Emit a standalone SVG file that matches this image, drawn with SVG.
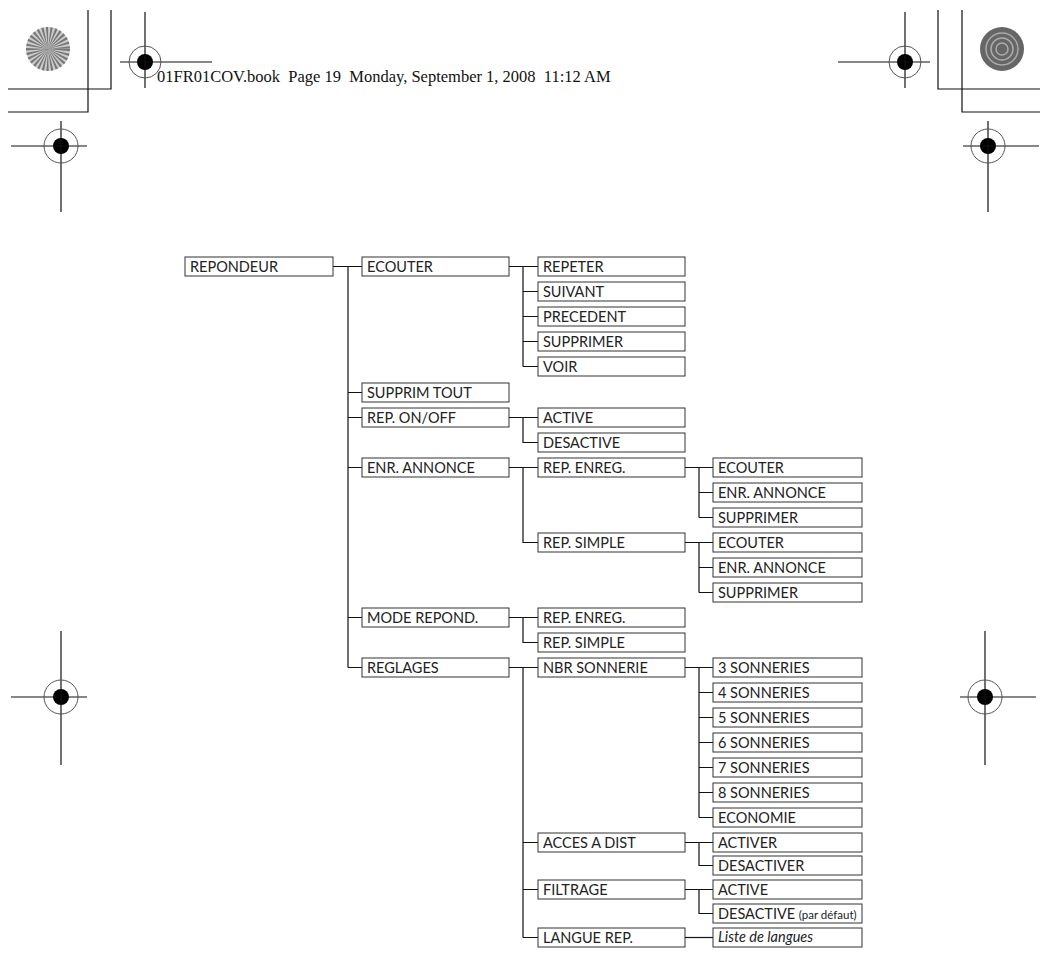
<svg xmlns="http://www.w3.org/2000/svg" width="1046" height="962" viewBox="0 0 1046 962">
<style>
.b rect{fill:#fff;stroke:#333;stroke-width:1}
.b text{font-family:Lato,"Open Sans",sans-serif;font-size:14.5px;fill:#222}
#conn path,.m line,.m path{stroke:#111;stroke-width:1.2;fill:none}
.m circle.o{fill:none;stroke:#555;stroke-width:1}
</style>
<rect width="1046" height="962" fill="#fff"/>
<g class="m">
<path d="M111 10V89H8M88 10V112H8M938 10V89H1040M962 10V112H1040"/>
<circle cx="48" cy="49" r="22" fill="#ccc"/>
<circle cx="48" cy="49" r="11" fill="none" stroke="#777" stroke-width="22" stroke-dasharray="1.2 1.2"/>
<circle cx="1002" cy="49" r="22" fill="#666"/>
<circle cx="1002" cy="49" r="16" fill="none" stroke="#aaa" stroke-width="1.5"/>
<circle cx="1002" cy="49" r="11" fill="none" stroke="#aaa" stroke-width="1.5"/>
<circle cx="1002" cy="49" r="6" fill="none" stroke="#aaa" stroke-width="1.5"/>
<g id="ch1"><line x1="120" y1="62" x2="212" y2="62"/><line x1="145" y1="12" x2="145" y2="88"/><circle class="o" cx="145" cy="62" r="16"/><circle cx="145" cy="62" r="8" fill="#000"/><path d="M137 62h16M145 54v16" stroke="#fff"/></g>
<g><line x1="838" y1="62" x2="930" y2="62"/><line x1="905" y1="12" x2="905" y2="88"/><circle class="o" cx="905" cy="62" r="16"/><circle cx="905" cy="62" r="8" fill="#000"/><path d="M897 62h16M905 54v16" stroke="#fff"/></g>
<g><line x1="11" y1="146" x2="87" y2="146"/><line x1="61" y1="121" x2="61" y2="212"/><circle class="o" cx="61" cy="146" r="17"/><circle cx="61" cy="146" r="8" fill="#000"/><path d="M53 146h16M61 138v16" stroke="#fff"/></g>
<g><line x1="963" y1="146" x2="1039" y2="146"/><line x1="988" y1="121" x2="988" y2="212"/><circle class="o" cx="988" cy="146" r="17"/><circle cx="988" cy="146" r="8" fill="#000"/><path d="M980 146h16M988 138v16" stroke="#fff"/></g>
<g><line x1="11" y1="697" x2="87" y2="697"/><line x1="61" y1="631" x2="61" y2="765"/><circle class="o" cx="61" cy="697" r="17"/><circle cx="61" cy="697" r="8" fill="#000"/><path d="M53 697h16M61 689v16" stroke="#fff"/></g>
<g><line x1="960" y1="697" x2="1036" y2="697"/><line x1="985" y1="631" x2="985" y2="765"/><circle class="o" cx="985" cy="697" r="17"/><circle cx="985" cy="697" r="8" fill="#000"/><path d="M977 697h16M985 689v16" stroke="#fff"/></g>
</g>
<text x="157" y="82" font-family="Liberation Serif,serif" font-size="16.5" fill="#111" style="white-space:pre">01FR01COV.book  Page 19  Monday, September 1, 2008  11:12 AM</text>
<g id="conn">
<path d="M333 266.5H362M348 266.5V667.5M348 392.5H362M348 417.5H362M348 467.5H362M348 617.5H362M348 667.5H362"/>
<path d="M509 266.5H538M523 266.5V366.5M523 291.5H538M523 316.5H538M523 341.5H538M523 366.5H538"/>
<path d="M509 417.5H538M523 417.5V442.5H538"/>
<path d="M509 467.5H538M523 467.5V542.5H538"/>
<path d="M685 467.5H713M699 467.5V517.5M699 492.5H713M699 517.5H713"/>
<path d="M685 542.5H713M699 542.5V592.5M699 567.5H713M699 592.5H713"/>
<path d="M509 617.5H538M523 617.5V642.5H538"/>
<path d="M509 667.5H538M523 667.5V937.5M523 842.5H538M523 889.5H538M523 937.5H538"/>
<path d="M685 667.5H713M699 667.5V817.5M699 692.5H713M699 717.5H713M699 742.5H713M699 767.5H713M699 792.5H713M699 817.5H713"/>
<path d="M685 842.5H713M699 842.5V865.5H713"/>
<path d="M685 889.5H713M699 889.5V913.5H713"/>
<path d="M685 937.5H713"/>
</g>
<g id="n-repondeur" class="b"><rect x="185" y="257" width="148" height="19"/><text x="190" y="272">REPONDEUR</text></g>
<g id="n-ecouter" class="b"><rect x="362" y="257" width="147" height="19"/><text x="367" y="272">ECOUTER</text></g>
<g id="n-repeter" class="b"><rect x="538" y="257" width="147" height="19"/><text x="543" y="272">REPETER</text></g>
<g id="n-suivant" class="b"><rect x="538" y="282" width="147" height="19"/><text x="543" y="297">SUIVANT</text></g>
<g id="n-precedent" class="b"><rect x="538" y="307" width="147" height="19"/><text x="543" y="322">PRECEDENT</text></g>
<g id="n-supprimer1" class="b"><rect x="538" y="332" width="147" height="19"/><text x="543" y="347">SUPPRIMER</text></g>
<g id="n-voir" class="b"><rect x="538" y="357" width="147" height="19"/><text x="543" y="372">VOIR</text></g>
<g id="n-supprimtout" class="b"><rect x="362" y="383" width="147" height="19"/><text x="367" y="398">SUPPRIM TOUT</text></g>
<g id="n-reponoff" class="b"><rect x="362" y="408" width="147" height="19"/><text x="367" y="423">REP. ON/OFF</text></g>
<g id="n-active1" class="b"><rect x="538" y="408" width="147" height="19"/><text x="543" y="423">ACTIVE</text></g>
<g id="n-desactive1" class="b"><rect x="538" y="433" width="147" height="19"/><text x="543" y="448">DESACTIVE</text></g>
<g id="n-enrannonce" class="b"><rect x="362" y="458" width="147" height="19"/><text x="367" y="473">ENR. ANNONCE</text></g>
<g id="n-repenreg1" class="b"><rect x="538" y="458" width="147" height="19"/><text x="543" y="473">REP. ENREG.</text></g>
<g id="n-ecouter2" class="b"><rect x="713" y="458" width="149" height="19"/><text x="718" y="473">ECOUTER</text></g>
<g id="n-enr2" class="b"><rect x="713" y="483" width="149" height="19"/><text x="718" y="498">ENR. ANNONCE</text></g>
<g id="n-suppr2" class="b"><rect x="713" y="508" width="149" height="19"/><text x="718" y="523">SUPPRIMER</text></g>
<g id="n-repsimple1" class="b"><rect x="538" y="533" width="147" height="19"/><text x="543" y="548">REP. SIMPLE</text></g>
<g id="n-ecouter3" class="b"><rect x="713" y="533" width="149" height="19"/><text x="718" y="548">ECOUTER</text></g>
<g id="n-enr3" class="b"><rect x="713" y="558" width="149" height="19"/><text x="718" y="573">ENR. ANNONCE</text></g>
<g id="n-suppr3" class="b"><rect x="713" y="583" width="149" height="19"/><text x="718" y="598">SUPPRIMER</text></g>
<g id="n-mode" class="b"><rect x="362" y="608" width="147" height="19"/><text x="367" y="623">MODE REPOND.</text></g>
<g id="n-repenreg2" class="b"><rect x="538" y="608" width="147" height="19"/><text x="543" y="623">REP. ENREG.</text></g>
<g id="n-repsimple2" class="b"><rect x="538" y="633" width="147" height="19"/><text x="543" y="648">REP. SIMPLE</text></g>
<g id="n-reglages" class="b"><rect x="362" y="658" width="147" height="19"/><text x="367" y="673">REGLAGES</text></g>
<g id="n-nbr" class="b"><rect x="538" y="658" width="147" height="19"/><text x="543" y="673">NBR SONNERIE</text></g>
<g id="n-s3" class="b"><rect x="713" y="658" width="149" height="19"/><text x="718" y="673">3 SONNERIES</text></g>
<g id="n-s4" class="b"><rect x="713" y="683" width="149" height="19"/><text x="718" y="698">4 SONNERIES</text></g>
<g id="n-s5" class="b"><rect x="713" y="708" width="149" height="19"/><text x="718" y="723">5 SONNERIES</text></g>
<g id="n-s6" class="b"><rect x="713" y="733" width="149" height="19"/><text x="718" y="748">6 SONNERIES</text></g>
<g id="n-s7" class="b"><rect x="713" y="758" width="149" height="19"/><text x="718" y="773">7 SONNERIES</text></g>
<g id="n-s8" class="b"><rect x="713" y="783" width="149" height="19"/><text x="718" y="798">8 SONNERIES</text></g>
<g id="n-eco" class="b"><rect x="713" y="808" width="149" height="19"/><text x="718" y="823">ECONOMIE</text></g>
<g id="n-acces" class="b"><rect x="538" y="833" width="147" height="19"/><text x="543" y="848">ACCES A DIST</text></g>
<g id="n-activer" class="b"><rect x="713" y="833" width="149" height="19"/><text x="718" y="848">ACTIVER</text></g>
<g id="n-desactiver" class="b"><rect x="713" y="856" width="149" height="19"/><text x="718" y="871">DESACTIVER</text></g>
<g id="n-filtrage" class="b"><rect x="538" y="880" width="147" height="19"/><text x="543" y="895">FILTRAGE</text></g>
<g id="n-active2" class="b"><rect x="713" y="880" width="149" height="19"/><text x="718" y="895">ACTIVE</text></g>
<g id="n-desactive2" class="b"><rect x="713" y="904" width="149" height="19"/><text x="718" y="919">DESACTIVE <tspan font-size="11.5">(par défaut)</tspan></text></g>
<g id="n-langue" class="b"><rect x="538" y="928" width="147" height="19"/><text x="543" y="943">LANGUE REP.</text></g>
<g id="n-liste" class="b"><rect x="713" y="928" width="149" height="19"/><text x="718" y="942" font-style="italic" font-size="11.5">Liste de langues</text></g>
</svg>
